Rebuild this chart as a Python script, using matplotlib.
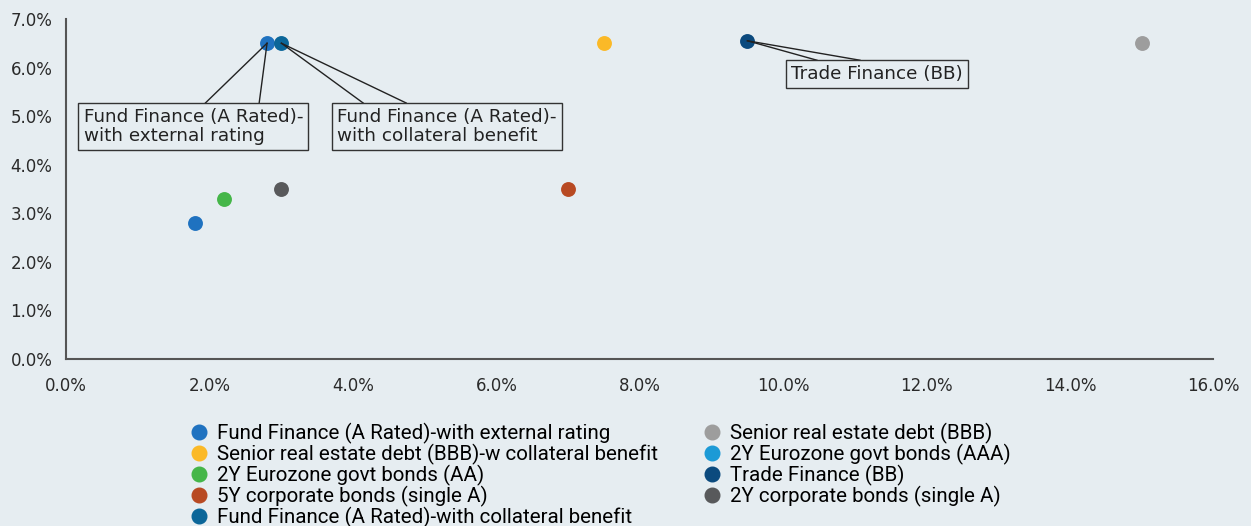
import matplotlib
matplotlib.use("Agg")
import matplotlib.pyplot as plt
from matplotlib.lines import Line2D
from matplotlib.ticker import FuncFormatter

# series names in legend order
names = [
    "Fund Finance (A Rated)-with external rating",
    "Senior real estate debt (BBB)-w collateral benefit",
    "2Y Eurozone govt bonds (AA)",
    "5Y corporate bonds (single A)",
    "Fund Finance (A Rated)-with collateral benefit",
    "Senior real estate debt (BBB)",
    "2Y Eurozone govt bonds (AAA)",
    "Trade Finance (BB)",
    "2Y corporate bonds (single A)",
]
legend_colors = ["#1f72c0", "#fbb927", "#45b649", "#b84a23", "#0b6699",
                 "#9d9d9d", "#1c9ad6", "#0b4a7e", "#58595b"]
x_vals = [2.8, 7.5, 2.2, 7.0, 3.0, 15.0, 1.8, 9.5, 3.0]
y_vals = [6.5, 6.5, 3.3, 3.5, 6.5, 6.5, 2.8, 6.55, 3.5]
# the AAA point is drawn in the same blue as the first series in the source
point_colors = ["#1f72c0", "#fbb927", "#45b649", "#b84a23", "#0b6699",
                "#9d9d9d", "#1f72c0", "#0b4a7e", "#58595b"]

bg = "#e6edf1"
plt.rcParams['font.family'] = ['DejaVu Sans']

fig = plt.figure(figsize=(12.51, 5.26), dpi=100, facecolor=bg)
ax = fig.add_axes([0.053, 0.3175, 0.917, 0.6465], facecolor=bg)

for xv, yv, c in zip(x_vals, y_vals, point_colors):
    ax.scatter(xv, yv, s=115, color=c, zorder=3, linewidths=0)

ax.set_xlim(0, 16)
ax.set_ylim(0, 7)
ax.set_xticks(range(0, 17, 2))
ax.set_yticks(range(0, 8))
pct = FuncFormatter(lambda v, p: f"{v:.1f}%")
ax.xaxis.set_major_formatter(pct)
ax.yaxis.set_major_formatter(pct)
ax.tick_params(length=0, labelsize=12, colors="#2a2a2a", pad=13)
ax.tick_params(axis='y', pad=10)
for s in ["top", "right"]:
    ax.spines[s].set_visible(False)
for s in ["left", "bottom"]:
    ax.spines[s].set_color("#555555")
    ax.spines[s].set_linewidth(1.5)

# callouts: (point index, box text, box left, box top, leader x ends)
callouts = [
    (0, "Fund Finance (A Rated)-\nwith external rating", 0.17, 5.27, [1.94, 2.69]),
    (4, "Fund Finance (A Rated)-\nwith collateral benefit", 3.71, 5.27, [4.14, 4.74]),
    (7, "Trade Finance (BB)", 10.04, 6.15, [10.47, 11.07]),
]
for i, txt, bx, by, ends in callouts:
    for ex in ends:
        ax.plot([x_vals[i], ex], [y_vals[i], by], color="#222222", lw=1.0, zorder=4)
    ax.text(bx + 0.07, by - 0.1, txt, ha="left", va="top", fontsize=13.2,
            color="#222222", linespacing=1.05, zorder=5,
            bbox=dict(boxstyle="square,pad=0.28", fc=bg, ec="#333333", lw=1.0))

handles = [Line2D([], [], marker="o", linestyle="", color=c, markersize=10.5)
           for c in legend_colors]
fig.legend(handles, names, ncol=2, loc="upper left", bbox_to_anchor=(0.1374, 0.232),
           frameon=False, handletextpad=0.5, labelspacing=0.0,
           columnspacing=2.2, handlelength=0.8,
           prop={'family': ['Roboto', 'DejaVu Sans'], 'size': 14.8})

fig.savefig("out.png", dpi=100, facecolor=bg)
